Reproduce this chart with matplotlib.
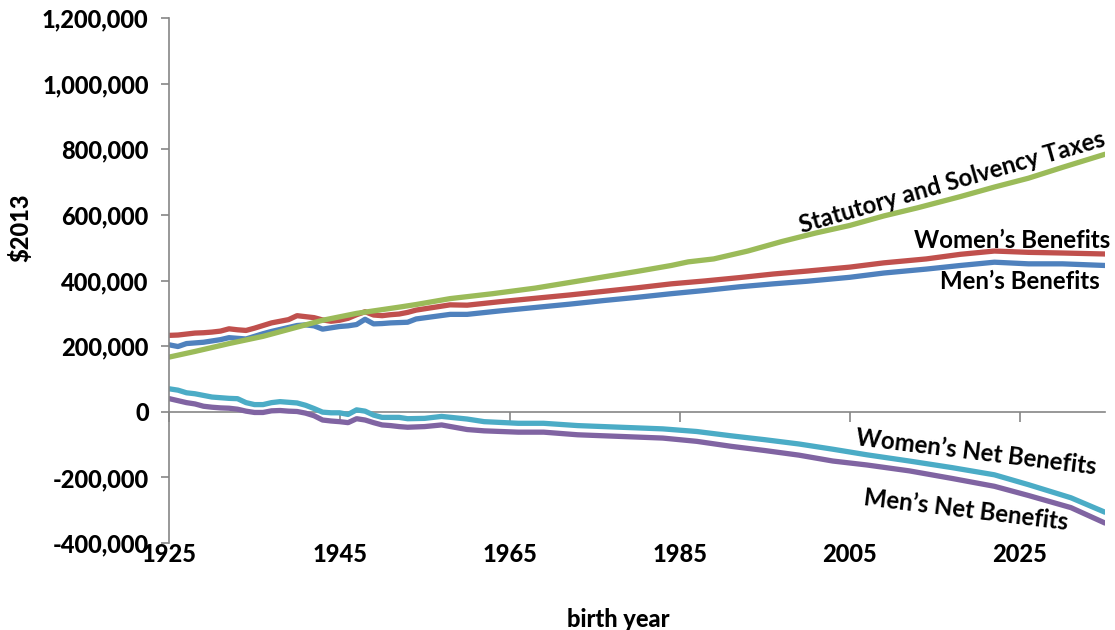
import matplotlib
matplotlib.use("Agg")
import matplotlib.pyplot as plt
from matplotlib.ticker import FuncFormatter

plt.rcParams['font.family'] = ['Lato', 'DejaVu Sans']

# ---------------- data (thousands of $2013) ----------------
women_years = [1925, 1926, 1927, 1928, 1929, 1930, 1931, 1932, 1933, 1934, 1935, 1936, 1937, 1938, 1939,
               1940, 1941, 1942, 1943, 1944, 1945, 1946, 1947, 1948, 1949, 1950, 1951, 1952, 1953, 1954,
               1956, 1958, 1960, 1964, 1968, 1972, 1976, 1980, 1984, 1988, 1992, 1996, 2000, 2005, 2009,
               2014, 2018, 2022, 2026, 2030, 2035]
women_benefits = [233, 234, 237, 240, 241, 243, 246, 253, 250, 248, 255, 263, 271, 276, 281,
                  293, 290, 287, 280, 276, 279, 285, 296, 305, 295, 293, 296, 298, 303, 310,
                  318, 326, 325, 336, 346, 356, 367, 378, 390, 399, 409, 420, 429, 441, 454,
                  466, 480, 490, 486, 484, 481]

men_years = women_years
men_benefits = [204, 199, 208, 210, 212, 216, 220, 226, 224, 222, 230, 238, 245, 251, 257,
                263, 265, 262, 252, 256, 260, 262, 266, 282, 268, 269, 271, 272, 273, 283,
                290, 297, 297, 308, 318, 328, 339, 349, 360, 370, 381, 390, 398, 410, 423,
                435, 446, 456, 451, 451, 446]

tax_years = [1925, 1928, 1932, 1936, 1940, 1943, 1947, 1952, 1954, 1958, 1963, 1968, 1972, 1976,
             1980, 1984, 1986, 1989, 1993, 1997, 2001, 2005, 2009, 2013, 2018, 2022, 2026, 2030, 2035]
taxes = [167, 184, 208, 230, 258, 279, 300, 319, 327, 345, 360, 377, 394, 411,
         428, 446, 457, 466, 490, 519, 545, 568, 597, 622, 656, 685, 712, 745, 785]

net_years = [1925, 1926, 1927, 1928, 1929, 1930, 1931, 1932, 1933, 1934, 1935, 1936, 1937, 1938, 1939,
             1940, 1941, 1942, 1943, 1944, 1945, 1946, 1947, 1948, 1949, 1950, 1951, 1952, 1953, 1955,
             1957, 1960, 1962, 1966, 1969, 1973, 1978, 1983, 1987, 1991, 1995, 1999, 2003, 2007, 2012,
             2017, 2022, 2026, 2031, 2035]
women_net = [70, 66, 58, 55, 50, 45, 43, 41, 40, 28, 22, 22, 28, 31, 29,
             27, 20, 10, -1, -3, -3, -8, 6, 2, -10, -17, -17, -17, -21, -20,
             -14, -22, -30, -35, -35, -42, -47, -52, -60, -73, -85, -98, -114, -131, -150,
             -170, -192, -222, -262, -306]
men_net = [40, 34, 28, 24, 17, 14, 12, 11, 8, 2, -2, -2, 3, 4, 2,
           1, -4, -12, -25, -28, -30, -33, -21, -25, -33, -40, -42, -45, -47, -45,
           -40, -54, -58, -62, -62, -70, -75, -80, -90, -105, -118, -132, -150, -162, -180,
           -203, -227, -255, -292, -339]

x_ticks = [1925, 1945, 1965, 1985, 2005, 2025]
y_ticks = [-400000, -200000, 0, 200000, 400000, 600000, 800000, 1000000, 1200000]

# ---------------- figure ----------------
fig = plt.figure(figsize=(11.15, 6.3), dpi=100)
ax = fig.add_axes([0.152, 0.138, 0.839, 0.8333])

lw = 3.8
k = 1000
ax.plot(women_years, [v * k for v in women_benefits], color='#C0504D', lw=lw, solid_capstyle='round')
ax.plot(men_years, [v * k for v in men_benefits], color='#4F81BD', lw=lw, solid_capstyle='round')
ax.plot(tax_years, [v * k for v in taxes], color='#9BBB59', lw=lw, solid_capstyle='round')
ax.plot(net_years, [v * k for v in women_net], color='#4BACC6', lw=lw, solid_capstyle='round')
ax.plot(net_years, [v * k for v in men_net], color='#8064A2', lw=lw, solid_capstyle='round')

ax.set_xlim(1925, 2035)
ax.set_ylim(-400000, 1200000)

grey = '#868686'
for s in ['top', 'right', 'bottom']:
    ax.spines[s].set_visible(False)
ax.spines['left'].set_color(grey)
ax.spines['left'].set_linewidth(1.2)

ax.set_yticks(y_ticks)
ax.yaxis.set_major_formatter(FuncFormatter(lambda v, p: f"{int(v):,}"))
ax.tick_params(axis='y', direction='out', length=6, width=1.2, color=grey, pad=9,
               labelsize=17)
for lab in ax.get_yticklabels():
    lab.set_fontweight('black')

ax.set_xticks(x_ticks)
ax.set_xticklabels([str(t) for t in x_ticks])
ax.tick_params(axis='x', length=0, pad=0, labelsize=17)
for lab in ax.get_xticklabels():
    lab.set_fontweight('black')

# zero-line axis with tick marks
sec = ax.secondary_xaxis(0.25)
sec.set_xticks(x_ticks)
sec.set_xticklabels([])
sec.tick_params(axis='x', direction='out', length=7, width=1.2, color=grey)
sec.spines['bottom'].set_color(grey)
sec.spines['bottom'].set_linewidth(1.2)

ax.set_xlabel('birth year', fontsize=17, fontweight='black')
ax.xaxis.set_label_coords(0.48, -0.123)
ax.set_ylabel('$2013', fontsize=17, fontweight='black')
ax.yaxis.set_label_coords(-0.147, 0.6)

# annotations
ann = dict(fontsize=17.3, fontweight='bold', color='black', ha='center', va='center')
ax.text(2017.0, 700000, 'Statutory and Solvency Taxes', rotation=16, **ann)
ax.text(2024.1, 521000, 'Women\u2019s Benefits', **ann)
ax.text(2025.0, 396000, 'Men\u2019s Benefits', **ann)
ax.text(2019.8, -122000, 'Women\u2019s Net Benefits', rotation=-7, **ann)
ax.text(2018.6, -298000, 'Men\u2019s Net Benefits', rotation=-7, **ann)

fig.savefig('out.png', dpi=100)
